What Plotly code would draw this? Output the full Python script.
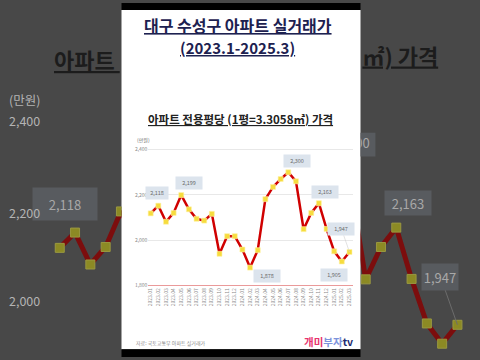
import plotly.graph_objects as go

W, H = 480, 360
FONT = "Noto Sans CJK KR, Noto Sans, sans-serif"

# ---------------- data ----------------
months = ["2023.01", "2023.02", "2023.03", "2023.04", "2023.05", "2023.06",
          "2023.07", "2023.08", "2023.09", "2023.10", "2023.11", "2023.12",
          "2024.01", "2024.02", "2024.03", "2024.04", "2024.05", "2024.06",
          "2024.07", "2024.08", "2024.09", "2024.10", "2024.11", "2024.12",
          "2025.01", "2025.02", "2025.03"]
prices = [2118, 2152, 2081, 2120, 2199, 2136, 2094, 2086, 2116, 1939,
          2017, 2017, 1958, 1878, 1955, 2181, 2235, 2270, 2300, 2260,
          2048, 2120, 2163, 2049, 1950, 1905, 1947]
y_ticks = [1800, 2000, 2200, 2400]
y_tick_text = ["1,800", "2,000", "2,200", "2,400"]
# callouts: (index, text, xshift, yshift, width)
callouts = [(0, "2,118", 6, 20, 20), (4, "2,199", 8, 12, 24), (18, "2,300", 9, 11, 24),
            (13, "1,878", 17, -8, 24), (22, "2,163", 6, 11, 24), (25, "1,905", -8, -14, 24)]
last_callout = (26, "1,947")

x_idx = list(range(1, len(months) + 1))


def px(p):
    return p / W


def py(p):
    return 1 - p / H


# background (enlarged 2x) chart mapping pixel -> data
def bgx(p):
    return 1 + (p - 58) / 15.36


def bgy(p):
    return 2400 - (p - 120) / 0.4575


fig = go.Figure()

# ---------------- background blurred chart ----------------
for xa, ya in (("x2", "y2"), ("x3", "y3")):
    fig.add_trace(go.Scatter(
        x=x_idx, y=prices, mode="lines+markers", xaxis=xa, yaxis=ya,
        line=dict(color="#7c0d0d", width=5),
        marker=dict(symbol="square", size=9, color="#8c8a24",
                    line=dict(color="#9a9840", width=1)),
        hoverinfo="skip"))

fig.add_trace(go.Scatter(
    x=[bgx(438)], y=[bgy(57)], mode="text", xaxis="x3", yaxis="y3",
    text=["<u>㎡) 가격</u>"], textposition="middle left",
    textfont=dict(family=FONT, size=22, color="#1c1c1c", weight="bold"),
    hoverinfo="skip"))
fig.add_trace(go.Scatter(
    x=[bgx(353)], y=[bgy(144)], mode="text", xaxis="x3", yaxis="y3",
    text=["2,300"], textfont=dict(family=FONT, size=13, color="#a8a8a8"),
    hoverinfo="skip"))

# ---------------- main chart ----------------
fig.add_trace(go.Scatter(
    x=x_idx, y=prices, mode="lines+markers", xaxis="x", yaxis="y",
    line=dict(color="#d00000", width=2.5),
    marker=dict(symbol="square", size=5, color="#f6dc3e",
                line=dict(color="#fff4a6", width=0.6)),
    cliponaxis=False, hoverinfo="skip"))

shapes = [
    # white shorts panel + black bars
    dict(type="rect", xref="paper", yref="paper", x0=px(120), x1=px(360),
         y0=py(352), y1=py(7), fillcolor="white", line=dict(width=0), layer="below"),
    dict(type="rect", xref="paper", yref="paper", x0=px(120), x1=px(360),
         y0=py(7), y1=1, fillcolor="black", line=dict(width=0), layer="below"),
    dict(type="rect", xref="paper", yref="paper", x0=px(120), x1=px(360),
         y0=0, y1=py(352), fillcolor="black", line=dict(width=0), layer="below"),
    # background 2,300 callout box (clipped)
    dict(type="rect", xref="x3", yref="y3", x0=bgx(332), x1=bgx(375),
         y0=bgy(156), y1=bgy(132), fillcolor="#585b5f", line=dict(width=0), layer="below"),
]

annotations = []


def paper_note(x, y, text, font, xanchor="center"):
    annotations.append(dict(xref="paper", yref="paper", x=px(x), y=py(y), text=text,
                            showarrow=False, xanchor=xanchor, yanchor="middle",
                            font=font))


# background enlarged subtitle fragment (left of panel)
paper_note(120, 57, "<u>아파트 </u>",
           dict(family=FONT, size=22, color="#1c1c1c", weight="bold"), "right")

# titles
paper_note(237, 22, "<u>대구 수성구 아파트 실거래가</u>",
           dict(family=FONT, size=16, color="#1d2150", weight="bold"))
paper_note(236, 45, "<u>(2023.1-2025.3)</u>",
           dict(family=FONT, size=15, color="#1d2150", weight="bold"))
paper_note(239, 118, "<u>아파트 전용평당 (1평=3.3058㎡) 가격</u>",
           dict(family=FONT, size=11.5, color="#222222", weight="bold"))
paper_note(134, 139, "(만원)", dict(family=FONT, size=5, color="#666666"), "left")
paper_note(133, 346, "자료: 국토교통부 아파트 실거래가",
           dict(family=FONT, size=5, color="#888888"), "left")
paper_note(354, 344,
           "<span style='color:#e8336d'>개미</span>"
           "<span style='color:#7d93dc'>부자</span>"
           "<span style='color:#1c2a6e'>tv</span>",
           dict(family=FONT, size=10.5, weight="bold"), "right")

# main callouts
for i, t, dx, dy, w in callouts:
    annotations.append(dict(xref="x", yref="y", x=x_idx[i], y=prices[i], text=t,
                            showarrow=False, xshift=dx, yshift=dy,
                            xanchor="center", yanchor="middle",
                            width=w, height=10, bgcolor="#dce4ed",
                            font=dict(family=FONT, size=5.5, color="#6a6a6a")))
i, t = last_callout
annotations.append(dict(xref="x", yref="y", x=x_idx[i], y=prices[i], text=t,
                        showarrow=True, arrowhead=0, arrowwidth=0.6, arrowcolor="#cfcfcf",
                        ax=-8, ay=-23, standoff=0,
                        width=24, height=10, bgcolor="#dce4ed",
                        font=dict(family=FONT, size=5.5, color="#6a6a6a")))

# background callouts
annotations.append(dict(xref="x2", yref="y2", x=x_idx[0], y=prices[0], text="2,118",
                        showarrow=False, xshift=5, yshift=44, width=62, height=30,
                        xanchor="center", yanchor="middle",
                        bgcolor="#585b5f", font=dict(family=FONT, size=13, color="#a8a8a8")))
annotations.append(dict(xref="x3", yref="y3", x=x_idx[22], y=prices[22], text="2,163",
                        showarrow=False, xshift=12, yshift=25, width=44, height=22,
                        xanchor="center", yanchor="middle",
                        bgcolor="#585b5f", font=dict(family=FONT, size=13, color="#a8a8a8")))
annotations.append(dict(xref="x3", yref="y3", x=x_idx[26], y=prices[26], text="1,947",
                        showarrow=True, arrowhead=0, arrowwidth=1, arrowcolor="#6c6c6c",
                        ax=-17, ay=-48, standoff=0, width=34, height=24,
                        bgcolor="#585b5f", font=dict(family=FONT, size=13, color="#a8a8a8")))
# background axis labels
for txt, yy in (("(만원)", 98), ("2,400", 120), ("2,200", 213), ("2,000", 303)):
    paper_note(5, yy, txt, dict(family=FONT, size=12.5, color="#b4b4b4"), "left")

fig.update_layout(
    width=W, height=H, margin=dict(l=0, r=0, t=0, b=0),
    paper_bgcolor="#484848", plot_bgcolor="rgba(0,0,0,0)",
    showlegend=False, shapes=shapes, annotations=annotations,
    font=dict(family=FONT),
    xaxis=dict(domain=[px(147), px(352)], range=[0.7, 27.4], anchor="y",
               tickvals=x_idx, ticktext=months, tickangle=-90,
               tickfont=dict(size=5, color="#888888"),
               showgrid=False, zeroline=False, showline=True,
               linecolor="#ea9a9a", linewidth=1, ticks=""),
    yaxis=dict(domain=[py(287), py(148)], range=[1800, 2405], anchor="x",
               tickvals=y_ticks, ticktext=y_tick_text,
               tickfont=dict(size=5, color="#888888"),
               showgrid=True, gridcolor="#e8e8e8", gridwidth=1,
               zeroline=False, showline=False, ticks=""),
    xaxis2=dict(domain=[0, px(120)], range=[bgx(0), bgx(120)], anchor="y2",
                visible=False),
    yaxis2=dict(domain=[0, 1], range=[bgy(360), bgy(0)], anchor="x2",
                visible=False),
    xaxis3=dict(domain=[px(360), 1], range=[bgx(360), bgx(480)], anchor="y3",
                visible=False),
    yaxis3=dict(domain=[0, 1], range=[bgy(360), bgy(0)], anchor="x3",
                visible=False),
)

fig.write_html("out.html")
